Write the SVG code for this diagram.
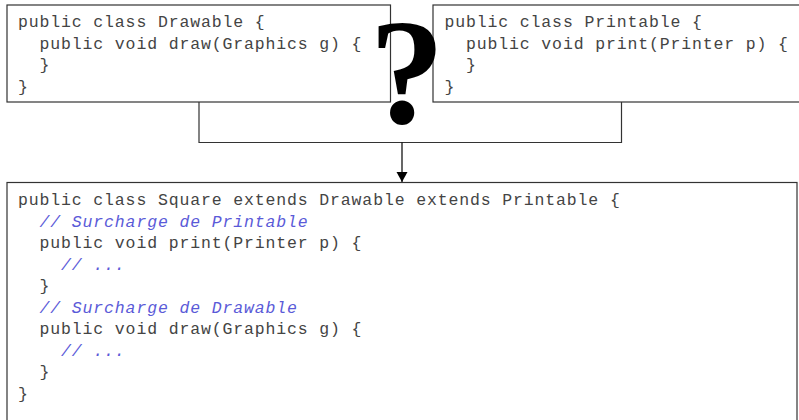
<svg xmlns="http://www.w3.org/2000/svg" width="799" height="420" viewBox="0 0 799 420">
  <defs>
    <marker id="arrow" viewBox="0 0 10 14" refX="10" refY="7" markerWidth="10" markerHeight="14" markerUnits="userSpaceOnUse" orient="auto">
      <path d="M0,1.5 L10,7 L0,12.5 Z" fill="#000"/>
    </marker>
    <style>
      .box { fill: #fff; stroke: #333; stroke-width: 1.2; }
      .code { font-family: "Liberation Mono", "Courier New", monospace; font-size: 16.5px; letter-spacing: 0.86px; fill: #444; white-space: pre; }
      .cmt { fill: #5a5ad8; font-style: italic; }
      .wire { fill: none; stroke: #333; stroke-width: 1.2; }
      .arrow { fill: none; stroke: #000; stroke-width: 1.2; }
      .qmark { font-family: "Liberation Serif", "Times New Roman", serif; font-weight: bold; font-size: 150px; fill: #000; }
    </style>
  </defs>

  <rect width="799" height="420" fill="#fff"/>

  <!-- connectors: both parents joined into one arrow down to the child -->
  <g id="connectors">
    <polyline class="wire" points="199,102 199,142.5 621.5,142.5 621.5,102"/>
    <line class="arrow" x1="402" y1="142.5" x2="402" y2="182" marker-end="url(#arrow)"/>
  </g>

  <g id="drawable">
    <rect class="box" x="7" y="5" width="383.5" height="97"/>
    <text class="code" x="18" y="27">public class Drawable {</text>
    <text class="code" x="18" y="48.5">  public void draw(Graphics g) {</text>
    <text class="code" x="18" y="70">  }</text>
    <text class="code" x="18" y="91.5">}</text>
  </g>

  <g id="printable">
    <rect class="box" x="433" y="5" width="380" height="97"/>
    <text class="code" x="444.5" y="27">public class Printable {</text>
    <text class="code" x="444.5" y="48.5">  public void print(Printer p) {</text>
    <text class="code" x="444.5" y="70">  }</text>
    <text class="code" x="444.5" y="91.5">}</text>
  </g>

  <g id="square">
    <rect class="box" x="7" y="182.5" width="790" height="250"/>
    <text class="code" x="18" y="205">public class Square extends Drawable extends Printable {</text>
    <text class="code cmt" x="18" y="226.5">  // Surcharge de Printable</text>
    <text class="code" x="18" y="248">  public void print(Printer p) {</text>
    <text class="code cmt" x="18" y="269.5">    // ...</text>
    <text class="code" x="18" y="291">  }</text>
    <text class="code cmt" x="18" y="312.5">  // Surcharge de Drawable</text>
    <text class="code" x="18" y="334">  public void draw(Graphics g) {</text>
    <text class="code cmt" x="18" y="355.5">    // ...</text>
    <text class="code" x="18" y="377">  }</text>
    <text class="code" x="18" y="398.5">}</text>
  </g>

  <g id="question">
    <text class="qmark" x="407" y="123" text-anchor="middle">?</text>
  </g>
</svg>
